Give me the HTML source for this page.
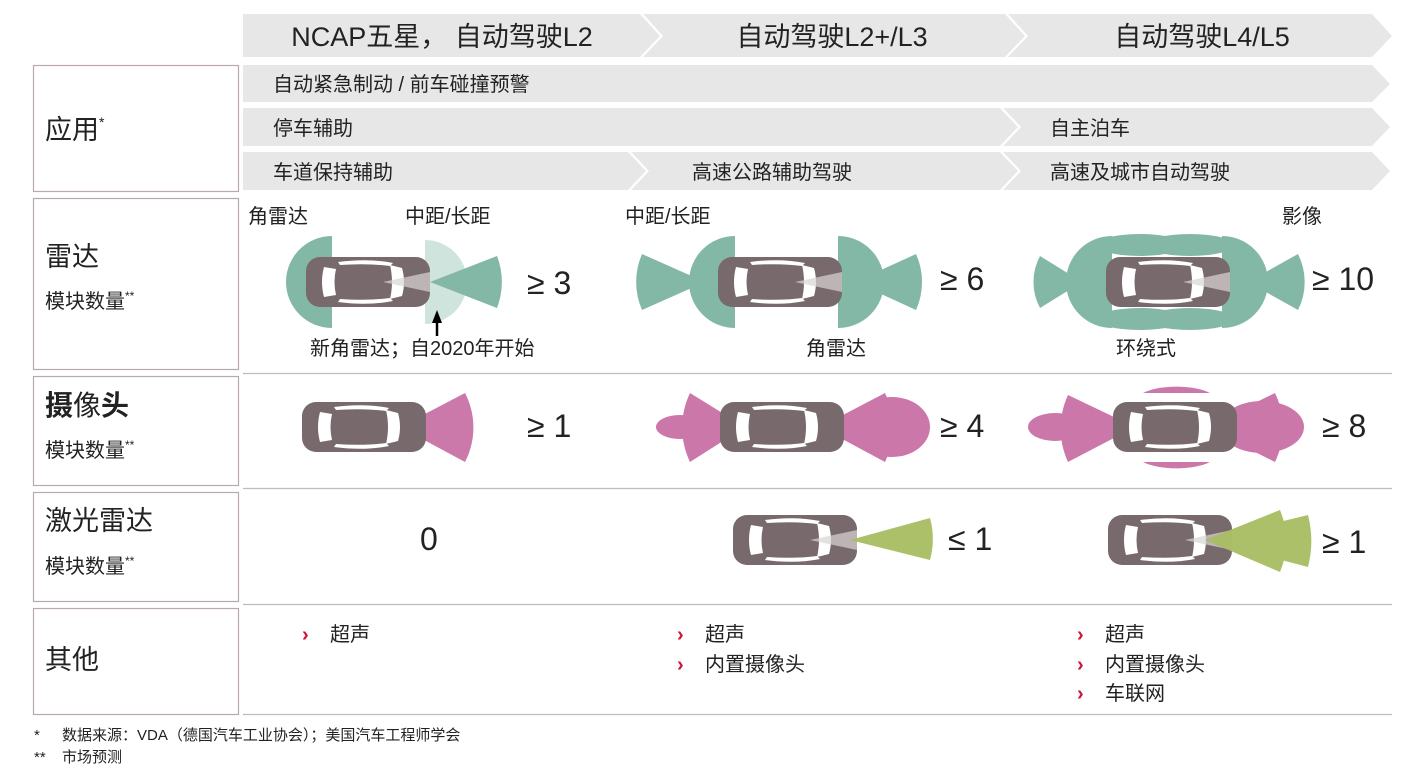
<!DOCTYPE html>
<html><head><meta charset="utf-8">
<style>
body{margin:0;background:#fff;}
svg{display:block;font-family:"Liberation Sans","Noto Sans CJK SC",sans-serif;}
</style></head><body>
<svg width="1427" height="778" viewBox="0 0 1427 778" xmlns="http://www.w3.org/2000/svg">
<defs>
<g id="car">
<rect x="-62" y="-25" width="124" height="50" rx="14" fill="#786a6c"/>
<path d="M-44,-15 Q-48,0 -44,15 L-32,13 Q-35,0 -32,-13Z" fill="#fff"/>
<path d="M22,-17 L34,-14 Q38,0 34,14 L22,17 Q26,0 22,-17Z" fill="#fff"/>
<path d="M-30,-20 Q0,-24 25,-19 L22,-16 Q0,-19 -28,-17Z" fill="#fff"/>
<path d="M-30,20 Q0,24 25,19 L22,16 Q0,19 -28,17Z" fill="#fff"/>
</g>
<g id="cone"><path d="M62,-10 L15,0 L62,10Z" fill="#d8d4d4" opacity="0.7"/></g>
</defs>

<g fill="#e8e7e7">
<path d="M243,14 L640,14 L660,36 L640,57 L243,57Z"/>
<path d="M643,14 L1005,14 L1025,36 L1005,57 L643,57 L663,36Z"/>
<path d="M1008,14 L1372,14 L1392,36 L1372,57 L1008,57 L1028,36Z"/>
<path d="M243,65 L1372,65 L1390,84 L1372,102 L243,102Z"/>
<path d="M243,108 L1000,108 L1018,127 L1000,146 L243,146Z"/>
<path d="M1003,108 L1372,108 L1390,127 L1372,146 L1003,146 L1021,127Z"/>
<path d="M243,152 L628,152 L646,171 L628,190 L243,190Z"/>
<path d="M631,152 L1000,152 L1018,171 L1000,190 L631,190 L649,171Z"/>
<path d="M1003,152 L1372,152 L1390,171 L1372,190 L1003,190 L1021,171Z"/>
</g>
<g font-size="27" fill="#222" text-anchor="middle">
<text x="442" y="46">NCAP五星， 自动驾驶L2</text>
<text x="832" y="46">自动驾驶L2+/L3</text>
<text x="1202" y="46">自动驾驶L4/L5</text>
</g>
<g font-size="20" fill="#222">
<text x="273" y="91">自动紧急制动 / 前车碰撞预警</text>
<text x="273" y="135">停车辅助</text>
<text x="1050" y="135">自主泊车</text>
<text x="273" y="179">车道保持辅助</text>
<text x="692" y="179">高速公路辅助驾驶</text>
<text x="1050" y="179">高速及城市自动驾驶</text>
</g>

<g fill="none" stroke="#b9a9ac" stroke-width="1.2">
<rect x="33.5" y="65.5" width="205" height="126"/>
<rect x="33.5" y="198.5" width="205" height="171"/>
<rect x="33.5" y="376.5" width="205" height="109"/>
<rect x="33.5" y="492.5" width="205" height="109"/>
<rect x="33.5" y="608.5" width="205" height="106"/>
</g>
<g stroke="#bdbdbd" stroke-width="1.2">
<line x1="243" y1="373.5" x2="1392" y2="373.5"/>
<line x1="243" y1="488.5" x2="1392" y2="488.5"/>
<line x1="243" y1="604.5" x2="1392" y2="604.5"/>
<line x1="243" y1="714.5" x2="1392" y2="714.5"/>
</g>
<g fill="#222">
<text x="45" y="139" font-size="27">应用<tspan font-size="14" dy="-12">*</tspan></text>
<text x="45" y="266" font-size="27">雷达</text>
<text x="45" y="308" font-size="20">模块数量<tspan font-size="12" dy="-8">**</tspan></text>
<text x="45" y="415" font-size="28" font-weight="bold">摄<tspan font-weight="normal">像</tspan>头</text>
<text x="45" y="457" font-size="20">模块数量<tspan font-size="12" dy="-8">**</tspan></text>
<text x="45" y="530" font-size="27">激光雷达</text>
<text x="45" y="573" font-size="20">模块数量<tspan font-size="12" dy="-8">**</tspan></text>
<text x="45" y="669" font-size="27">其他</text>
</g>

<g fill="#84b8a6">
<path d="M332,282 L286,282 A46 46 0 0 1 332,236Z"/>
<path d="M332,282 L286,282 A46 46 0 0 0 332,328Z"/>
<path d="M425,282 L425,240 A42 42 0 0 1 425,324Z" fill="#cfe4dc"/>
<path d="M430,282 L497,256 A72 72 0 0 1 497,308Z"/>
<path d="M735,282 L689,282 A46 46 0 0 1 735,236Z"/>
<path d="M735,282 L689,282 A46 46 0 0 0 735,328Z"/>
<path d="M705,282 L642,254 A70 70 0 0 0 642,310Z"/>
<path d="M838,282 L838,236 A46 46 0 0 1 884,282Z"/>
<path d="M838,282 L838,328 A46 46 0 0 0 884,282Z"/>
<path d="M855,282 L916,254 A68 68 0 0 1 916,310Z"/>
<ellipse cx="1140" cy="245" rx="44" ry="11"/>
<ellipse cx="1190" cy="245" rx="44" ry="11"/>
<ellipse cx="1140" cy="319" rx="44" ry="11"/>
<ellipse cx="1190" cy="319" rx="44" ry="11"/>
</g>
<rect x="1100" y="257" width="134" height="50" fill="#fff"/>
<g fill="#84b8a6">
<path d="M1112,282 L1066,282 A46 46 0 0 1 1112,236Z"/>
<path d="M1112,282 L1066,282 A46 46 0 0 0 1112,328Z"/>
<path d="M1082,282 L1040,256 A55 55 0 0 0 1040,308Z"/>
<path d="M1222,282 L1222,236 A46 46 0 0 1 1268,282Z"/>
<path d="M1222,282 L1222,328 A46 46 0 0 0 1268,282Z"/>
<path d="M1248,282 L1298,254 A62 62 0 0 1 1298,310Z"/>
</g>
<use href="#car" x="368" y="282"/><use href="#cone" x="368" y="282"/>
<use href="#car" x="780" y="282"/><use href="#cone" x="780" y="282"/>
<use href="#car" x="1168" y="282"/><use href="#cone" x="1168" y="282"/>
<path d="M437,336 L437,322" stroke="#000" stroke-width="2.5"/>
<path d="M432,323 L437,310 L442,323Z" fill="#000"/>
<g font-size="20" fill="#222">
<text x="248" y="223">角雷达</text>
<text x="405" y="223">中距/长距</text>
<text x="625" y="223">中距/长距</text>
<text x="1282" y="223">影像</text>
<text x="310" y="355">新角雷达；自2020年开始</text>
<text x="806" y="355">角雷达</text>
<text x="1116" y="355">环绕式</text>
</g>
<g font-size="32" fill="#222">
<text x="527" y="294">≥ 3</text>
<text x="940" y="290">≥ 6</text>
<text x="1312" y="290">≥ 10</text>
<text x="527" y="437">≥ 1</text>
<text x="940" y="437">≥ 4</text>
<text x="1322" y="437">≥ 8</text>
<text x="420" y="550">0</text>
<text x="948" y="550">≤ 1</text>
<text x="1322" y="553">≥ 1</text>
</g>

<g fill="#c2609c" opacity="0.85">
<path d="M400,427 L465,393 A75 75 0 0 1 465,462Z"/>
<ellipse cx="680" cy="427" rx="24" ry="12"/>
<path d="M745,427 L690,393 A80 80 0 0 0 690,462Z"/>
<path d="M820,427 L885,393 A80 80 0 0 1 885,462Z"/>
<ellipse cx="892" cy="427" rx="38" ry="30"/>
<path d="M1143,393 A40 14 0 0 1 1210,393Z"/>
<path d="M1143,462 A40 14 0 0 0 1210,462Z"/>
<ellipse cx="1055" cy="427" rx="27" ry="14"/>
<path d="M1135,427 L1068,395 A80 80 0 0 0 1068,462Z"/>
<path d="M1205,427 L1275,393 A80 80 0 0 1 1275,462Z"/>
<ellipse cx="1262" cy="427" rx="42" ry="26"/>
</g>
<use href="#car" x="364" y="427"/>
<use href="#car" x="782" y="427"/>
<use href="#car" x="1175" y="427"/>

<use href="#car" x="795" y="540"/><use href="#cone" x="795" y="540"/>
<use href="#car" x="1170" y="540"/><use href="#cone" x="1170" y="540"/>
<g fill="#a8bd62" opacity="0.95">
<path d="M850,540 L930,518 A80 80 0 0 1 930,560Z"/>
<path d="M1205,540 L1280,510 A80 80 0 0 1 1280,572Z"/>
<path d="M1205,540 L1308,515 A105 105 0 0 1 1308,567Z"/>
</g>

<g font-size="20" fill="#222">
<text x="330" y="641">超声</text>
<text x="705" y="641">超声</text>
<text x="705" y="671">内置摄像头</text>
<text x="1105" y="641">超声</text>
<text x="1105" y="671">内置摄像头</text>
<text x="1105" y="700">车联网</text>
</g>
<g font-size="20" fill="#d0103a" font-weight="bold">
<text x="302" y="641">›</text>
<text x="677" y="641">›</text>
<text x="677" y="671">›</text>
<text x="1077" y="641">›</text>
<text x="1077" y="671">›</text>
<text x="1077" y="700">›</text>
</g>
<g font-size="15" fill="#222">
<text x="34" y="740">*</text><text x="62" y="740">数据来源：VDA（德国汽车工业协会）；美国汽车工程师学会</text>
<text x="34" y="762">**</text><text x="62" y="762">市场预测</text>
</g>
</svg>
</body></html>
